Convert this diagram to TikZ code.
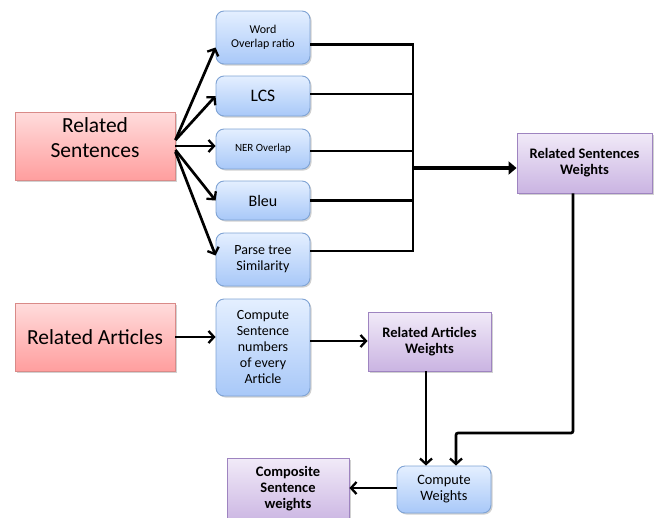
\documentclass[tikz,border=0pt]{standalone}
\usepackage{fontspec}
\setmainfont{Carlito}
\usetikzlibrary{arrows.meta,shadows,calc}

\definecolor{redtop}{HTML}{FFDCDC}
\definecolor{redbot}{HTML}{FF9E9E}
\definecolor{redline}{HTML}{D98A88}
\definecolor{bluetop}{HTML}{E4EFFF}
\definecolor{bluebot}{HTML}{A8C8F8}
\definecolor{blueline}{HTML}{7FA3D4}
\definecolor{purptop}{HTML}{F1EAF8}
\definecolor{purpbot}{HTML}{CAB4E2}
\definecolor{purpline}{HTML}{9E84C0}

\tikzset{
  shade box/.style={drop shadow={shadow xshift=1.5pt,shadow yshift=-1.5pt,fill=black!30,opacity=0.6},
    align=center, inner sep=2pt, text=black},
  redbox/.style={shade box, draw=redline, line width=0.9pt, top color=redtop, bottom color=redbot,
    minimum width=160pt, minimum height=68pt, font=\fontsize{21.5}{25}\selectfont},
  bluebox/.style={shade box, draw=blueline, line width=0.9pt, top color=bluetop, bottom color=bluebot,
    rounded corners=8pt, minimum width=94pt},
  purpbox/.style={shade box, draw=purpline, line width=0.9pt, top color=purptop, bottom color=purpbot,
    font=\bfseries\fontsize{14.5}{16}\selectfont},
  arr/.style={line width=2.7pt, -{Straight Barb[length=5.5pt,width=12pt,line width=2.3pt]}},
  bus/.style={line width=2.8pt},
  bigarr/.style={line width=4pt, -{Triangle[length=8pt,width=13pt]}},
}

\begin{document}
\begin{tikzpicture}[x=1pt,y=-1pt]
\useasboundingbox (0,0) rectangle (656,517);

% input sources
\node[redbox] (rs) at (95,146) {Related\\Sentences\\[-8pt]};
\node[redbox] (ra) at (95,337) {Related Articles};

% similarity measures
\node[bluebox, minimum height=53pt, font=\fontsize{12}{14}\selectfont] (w1) at (263,37.5) {Word\\Overlap ratio};
\node[bluebox, minimum height=40pt, font=\fontsize{17.5}{19}\selectfont] (w2) at (263,96) {LCS};
\node[bluebox, minimum height=40pt, font=\fontsize{11}{13}\selectfont] (w3) at (263,149) {NER Overlap};
\node[bluebox, minimum height=39pt, font=\fontsize{16}{19}\selectfont] (w4) at (263,200.5) {Bleu};
\node[bluebox, minimum height=53pt, font=\fontsize{14}{16}\selectfont] (w5) at (263,259.5) {Parse tree\\Similarity};

% article branch and combination
\node[bluebox, minimum height=97pt, font=\fontsize{14}{16}\selectfont] (cs) at (263,347.5) {Compute\\Sentence\\numbers\\of every\\Article};
\node[purpbox, minimum width=135pt, minimum height=60pt] (rsw) at (584.5,163) {Related Sentences\\Weights};
\node[purpbox, minimum width=123pt, minimum height=59pt] (raw) at (429.5,341.5) {Related Articles\\Weights};
\node[bluebox, minimum height=47pt, font=\fontsize{14.3}{16}\selectfont] (cw) at (444,489.5) {Compute\\Weights};
\node[purpbox, minimum width=122pt, minimum height=66pt, anchor=north] (csw) at (288,458) {\\[-12pt]Composite\\Sentence\\weights};

% fan-out from related sentences
\draw[arr] ([yshift=6pt]rs.east) -- ([yshift=-10pt]w1.west);
\draw[arr] ([yshift=6pt]rs.east) -- (w2.west);
\draw[arr] (rs.east) -- ([yshift=3pt]w3.west);
\draw[arr] ([yshift=-4pt]rs.east) -- (w4.west);
\draw[arr] ([yshift=-6pt]rs.east) -- ([yshift=4pt]w5.west);

% collecting bus
\coordinate (join) at (413,168);
\draw[bus] ([yshift=-7pt]w1.east) -| (join);
\draw[bus] ([yshift=2pt]w2.east) -| (join);
\draw[bus] ([yshift=-2pt]w3.east) -| (join);
\draw[bus] (w4.east) -| (join);
\draw[bus] ([yshift=8.5pt]w5.east) -| (join);
\draw[bigarr] (join) -- (join -| rsw.west);

% article branch
\draw[arr] (ra.east) -- (ra.east -| cs.west);
\draw[arr] ([yshift=6.5pt]cs.east) -- ([yshift=6.5pt]cs.east -| raw.west);

% into the weight computation
\coordinate (bend) at (456,433);
\draw[arr, rounded corners=2pt] ([xshift=-11.5pt]rsw.south) |- (bend) -- ([xshift=12pt]cw.north);
\draw[arr] ([xshift=-3.5pt]raw.south) -- ([xshift=-3.5pt]raw.south |- cw.north);
\draw[arr] ([yshift=1.5pt]cw.west) -- ([yshift=1.5pt]cw.west -| csw.east);
\end{tikzpicture}
\end{document}
